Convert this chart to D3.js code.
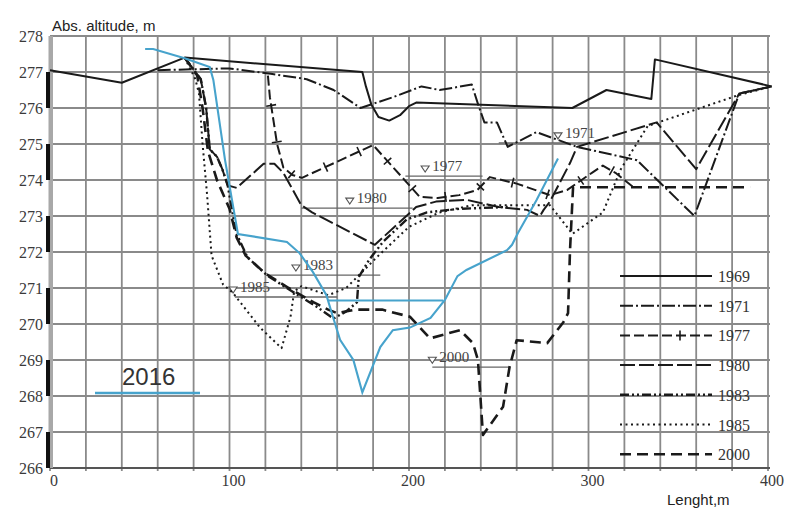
<!DOCTYPE html>
<html>
<head>
<meta charset="utf-8">
<script src="https://cdn.jsdelivr.net/npm/d3@7"></script>
<style>
  body { margin: 0; background: #fff; }
  svg { display: block; }
</style>
</head>
<body>
<svg id="chart" width="790" height="510"></svg>
<script>
// cross-section profiles, [length m, abs. altitude m]
const p1969 = [[0,277.05],[40,276.7],[75,277.4],[174,277.0],[176,276.6],[179,276.1],[183,275.75],[189,275.65],[195,275.8],[200,276.05],[204,276.15],[291,276.0],[310,276.5],[335,276.25],[337,277.35],[402,276.6]];
const p1971 = [[60,277.05],[100,277.1],[123,276.95],[143,276.8],[158,276.5],[173,276.0],[191,276.3],[207,276.6],[217,276.5],[235,276.65],[238.5,276.1],[242,275.6],[249,275.6],[255,274.92],[271,275.33],[293.6,274.92],[327,274.55],[359,273.0],[384,276.4],[402,276.6]];
const p1977 = [[121.4,276.9],[122.5,276.3],[126.5,275.0],[130,274.35],[135,274.14],[140.4,274.06],[180,274.97],[206,273.53],[216,273.5],[228,273.58],[238,273.72],[245,274.08],[260,273.9],[278.5,273.58],[288,273.72],[302.5,274.22],[308,274.4],[315,274.2],[325,273.8]];
const p1980 = [[75,277.4],[84,276.8],[87,276.0],[89,274.85],[93,274.65],[96,274.3],[99,273.85],[104,273.78],[119,274.45],[125,274.45],[130,274.2],[140,273.3],[146,273.1],[181,272.2],[204,273.25],[215,273.4],[232,273.45],[250,273.25],[265.7,273.17],[273,273.0],[275,273.17],[278.5,273.4],[289.7,274.47],[293.6,274.92],[338,275.6],[360,274.3],[384,276.4],[402,276.6]];
const p1983 = [[75,277.4],[84,276.8],[87,276.0],[89,274.85],[93,274.65],[96,274.3],[99,273.85],[102,273.0],[104,272.5],[110,271.85],[121,271.35],[135,270.9],[148,270.5],[158,270.15],[165,270.35],[171,270.6],[172,271.3],[178,271.8],[185.5,272.28],[198.6,272.9],[210,273.1],[228,273.2],[255,273.25]];
const p1985 = [[75,277.4],[81,276.8],[83,276.4],[85,275.0],[87.5,273.6],[90,271.9],[96.4,271.1],[102,270.86],[117,269.9],[129,269.33],[134,270.2],[136,270.9],[140,271.05],[155,270.8],[165,271.0],[183,271.9],[200,272.7],[217,273.1],[235,273.3],[278.5,273.3],[288,272.7],[291,272.5],[308,273.1],[313,273.7],[318,274.3],[328,275.1],[333,275.5],[383,276.35],[402,276.6]];
const p2000 = [[75,277.4],[82,276.9],[85,276.0],[88,274.8],[93,274.0],[100,273.2],[104,272.4],[109,271.9],[120,271.4],[133,271.0],[147,270.6],[155,270.4],[160,270.3],[170,270.4],[185,270.4],[200.6,270.2],[211.7,269.6],[228.4,269.83],[235.6,269.47],[238.4,269.0],[241.2,266.92],[252.4,267.7],[256,268.8],[260,269.55],[277,269.47],[286,270.05],[288.6,270.3],[289.7,272.05],[291.4,273.8],[390,273.8]];
const p2016 = [[53,277.64],[57.5,277.64],[75,277.38],[89,277.14],[91,276.78],[97.5,274.56],[101.4,273.44],[104.7,272.5],[132,272.28],[139,271.97],[146.5,271.44],[154,270.8],[157,270.3],[161.6,269.56],[169,269.0],[174,268.1],[184,269.36],[191,269.83],[200.5,269.9],[212,270.17],[220,270.67],[227,271.33],[232,271.5],[254.6,272.05],[257.4,272.2],[260.7,272.53],[271,273.44],[283,274.6]];
const water2016 = [[155,270.65],[219,270.65]];

// water levels
const levelYears = ["1971","1977","1980","1983","1985","2000"];
const levelAlt   = [275.03, 274.11, 273.22, 271.36, 270.75, 268.8];
const levelFrom  = [250, 198, 140, 121, 103, 213];
const levelTo    = [340, 241, 202, 184, 160, 256];
const levelMark  = [283, 209, 167, 137, 102, 213];

const years = ["1969","1971","1977","1980","1983","1985","2000"];
const profiles = [p1969, p1971, p1977, p1980, p1983, p1985, p2000];
const xTicks = [0, 100, 200, 300, 400];
const yTicks = d3.range(266, 279);

// line look per year
const dash  = ["", "13,3,2,3", "10,4", "15,4", "9,3,2,3,2,3", "2,3.5", "11,6"];
const width = [2, 2, 2, 2, 2.4, 2, 2.6];

const svg = d3.select("#chart");
const x = d3.scaleLinear().domain([0, 400]).range([50, 768]);
const y = d3.scaleLinear().domain([266, 278]).range([468, 36]);

// grid
const grid = svg.append("g").attr("stroke", "#8a8a8a").attr("stroke-width", 1.8);
grid.selectAll(".v").data(d3.range(0, 401, 20)).join("line")
  .attr("x1", d => x(d)).attr("x2", d => x(d))
  .attr("y1", y(278)).attr("y2", y(266) + 3);
grid.selectAll(".h").data(yTicks).join("line")
  .attr("x1", x(0)).attr("x2", x(400) + 2)
  .attr("y1", d => y(d)).attr("y2", d => y(d))
  .attr("stroke", d => d === 266 ? "#555" : null);

// y axis bar: gray strip, black every other metre
svg.append("rect").attr("x", 48.5).attr("y", y(278)).attr("width", 4.5)
  .attr("height", y(266) - y(278)).attr("fill", "#a8a8a8");
svg.selectAll(".seg").data([276, 274, 272, 270, 268, 266]).join("rect")
  .attr("x", 46).attr("y", d => y(d + 1)).attr("width", 4)
  .attr("height", d => y(d) - y(d + 1)).attr("fill", "#111");

// tick labels
const serif = "'Liberation Serif','Times New Roman',serif";
svg.selectAll(".yl").data(yTicks).join("text")
  .attr("x", 43).attr("y", d => y(d) + 6)
  .attr("text-anchor", "end").attr("font-family", serif)
  .attr("font-size", 16).attr("fill", "#3a3a3a").text(d => d);
svg.selectAll(".xl").data(xTicks).join("text")
  .attr("x", d => x(d) + 4).attr("y", 486)
  .attr("text-anchor", "middle").attr("font-family", serif)
  .attr("font-size", 16).attr("fill", "#3a3a3a").text(d => d);

const sans = "'Liberation Sans',Arial,sans-serif";
svg.append("text").attr("x", 52).attr("y", 31).attr("font-family", sans)
  .attr("font-size", 15).attr("fill", "#222").text("Abs. altitude, m");
svg.append("text").attr("x", 667).attr("y", 505).attr("font-family", sans)
  .attr("font-size", 15).attr("fill", "#222").text("Lenght,m");

// water levels with markers
const lv = svg.append("g");
levelYears.forEach((yr, i) => {
  const ly = y(levelAlt[i]), mx = x(levelMark[i]);
  lv.append("line").attr("x1", x(levelFrom[i])).attr("x2", x(levelTo[i]))
    .attr("y1", ly).attr("y2", ly).attr("stroke", "#666").attr("stroke-width", 1.3);
  lv.append("path")
    .attr("d", `M${mx - 4},${ly - 10}L${mx + 4},${ly - 10}L${mx},${ly - 4}Z`)
    .attr("fill", "#fff").attr("stroke", "#555").attr("stroke-width", 1.1);
  lv.append("text").attr("x", mx + 7).attr("y", ly - 5)
    .attr("font-family", serif).attr("font-size", 15).attr("fill", "#444").text(yr);
});

const line = d3.line().x(d => x(d[0])).y(d => y(d[1]));

// cross ticks along a path (1977 style)
function crossTicks(g, node, step, start) {
  const len = node.getTotalLength();
  for (let s = start; s < len - 4; s += step) {
    const a = node.getPointAtLength(s), b = node.getPointAtLength(s + 1);
    const ang = Math.atan2(b.y - a.y, b.x - a.x) + Math.PI / 2;
    const dx = Math.cos(ang) * 5, dy = Math.sin(ang) * 5;
    g.append("line").attr("x1", a.x - dx).attr("y1", a.y - dy)
      .attr("x2", a.x + dx).attr("y2", a.y + dy)
      .attr("stroke", "#1a1a1a").attr("stroke-width", 1.6);
  }
}

// profiles
const pg = svg.append("g").attr("fill", "none");
profiles.forEach((p, i) => {
  const path = pg.append("path").attr("d", line(p))
    .attr("stroke", "#1a1a1a").attr("stroke-width", width[i])
    .attr("stroke-dasharray", dash[i] || null)
    .attr("stroke-linejoin", "round");
  if (years[i] === "1977") crossTicks(pg, path.node(), 37, 30);
});

// 2016
const blue = "#47a3cc";
pg.append("path").attr("d", line(p2016)).attr("stroke", blue).attr("stroke-width", 2.1);
pg.append("path").attr("d", line(water2016)).attr("stroke", blue).attr("stroke-width", 2);

// legend
const lg = svg.append("g");
years.forEach((yr, i) => {
  const ly = 276 + i * 29.7;
  const l = lg.append("line").attr("x1", 620).attr("x2", 712).attr("y1", ly).attr("y2", ly)
    .attr("stroke", "#1a1a1a").attr("stroke-width", width[i])
    .attr("stroke-dasharray", dash[i] || null);
  if (yr === "1977") crossTicks(lg, l.node(), 100, 60);
  lg.append("text").attr("x", 718).attr("y", ly + 6).attr("font-family", serif)
    .attr("font-size", 16).attr("fill", "#333").text(yr);
});
lg.append("line").attr("x1", 95).attr("x2", 200).attr("y1", 393).attr("y2", 393)
  .attr("stroke", blue).attr("stroke-width", 2.4);
lg.append("text").attr("x", 122).attr("y", 385).attr("font-family", sans)
  .attr("font-size", 24).attr("fill", "#333").text("2016");
</script>
</body>
</html>
